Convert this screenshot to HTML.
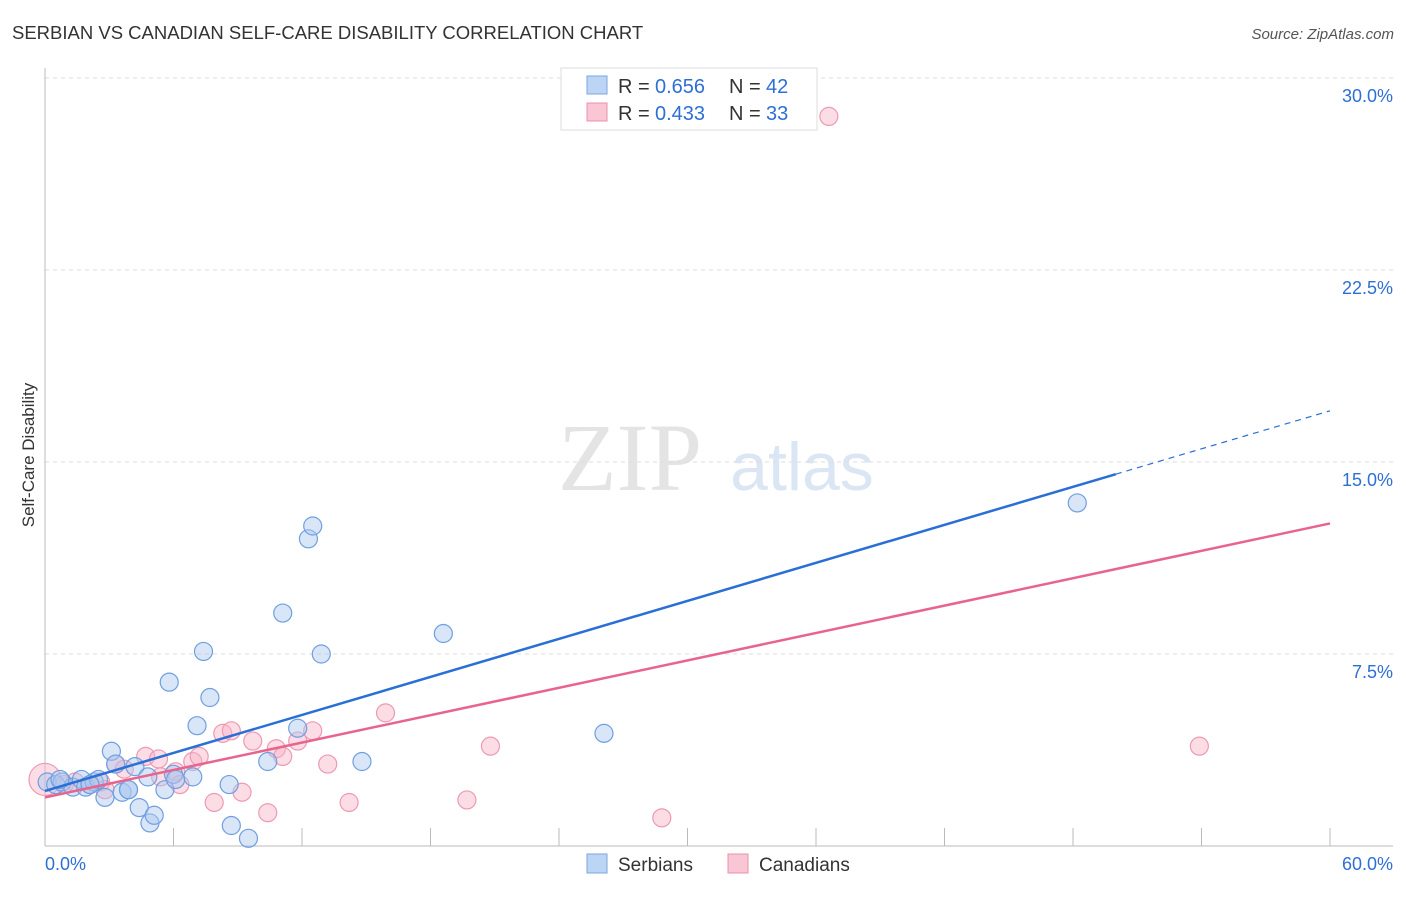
<!DOCTYPE html>
<html><head><meta charset="utf-8"><style>
body{margin:0;background:#fff;font-family:"Liberation Sans",sans-serif;}
</style></head><body>
<svg width="1406" height="892" xmlns="http://www.w3.org/2000/svg" id="svg">
<text x="12" y="39" font-size="18.5" fill="#333">SERBIAN VS CANADIAN SELF-CARE DISABILITY CORRELATION CHART</text>
<text x="1394" y="39" font-size="15" fill="#555" font-style="italic" text-anchor="end">Source: ZipAtlas.com</text>
<text x="630" y="490" font-size="96" fill="#e4e4e4" font-family="Liberation Serif,serif" text-anchor="middle">ZIP</text>
<text x="802" y="490" font-size="68" fill="#dbe6f5" text-anchor="middle">atlas</text>
<text x="34" y="455" font-size="17" fill="#333" transform="rotate(-90 34 455)" text-anchor="middle">Self-Care Disability</text>
<g id="grid"></g><g id="pts"></g><g id="lines"></g>
<g>
<rect x="561" y="68" width="256" height="62" fill="#fff" stroke="#ddd"/>
<rect x="587" y="76" width="20" height="18" fill="#bcd5f5" stroke="#7aa6e0"/>
<text x="618" y="93" font-size="20" fill="#333">R =</text><text x="655" y="93" font-size="20" fill="#2e6fd4">0.656</text>
<text x="729" y="93" font-size="20" fill="#333">N =</text><text x="766" y="93" font-size="20" fill="#2e6fd4">42</text>
<rect x="587" y="103" width="20" height="18" fill="#f9c6d6" stroke="#e890ab"/>
<text x="618" y="120" font-size="20" fill="#333">R =</text><text x="655" y="120" font-size="20" fill="#2e6fd4">0.433</text>
<text x="729" y="120" font-size="20" fill="#333">N =</text><text x="766" y="120" font-size="20" fill="#2e6fd4">33</text>
</g>
<g>
<rect x="587" y="854" width="20" height="19" fill="#bcd5f5" stroke="#7aa6e0"/>
<text x="618" y="871" font-size="19" fill="#333">Serbians</text>
<rect x="728" y="854" width="20" height="19" fill="#f9c6d6" stroke="#e890ab"/>
<text x="759" y="871" font-size="19" fill="#333">Canadians</text>
</g>
</svg>
<script>
const yTicks=[7.5,15,22.5,30];
const yTickLabels=["7.5%","15.0%","22.5%","30.0%"];
const xTickLabels=["0.0%","60.0%"];
const serbX=[0.1,0.5,0.8,1.3,1.7,1.9,2.3,2.5,2.8,3.1,3.3,3.6,3.9,4.2,4.4,4.8,4.9,5.1,5.6,5.8,6.0,6.9,7.1,7.4,7.7,8.6,8.7,9.5,10.4,11.1,11.8,12.3,12.5,12.9,14.8,18.6,26.1,48.2,0.7,2.1,3.9,6.1];
const serbY=[2.5,2.4,2.5,2.3,2.6,2.3,2.5,2.6,1.9,3.7,3.2,2.1,2.2,3.1,1.5,2.7,0.9,1.2,2.2,6.4,2.8,2.7,4.7,7.6,5.8,2.4,0.8,0.3,3.3,9.1,4.6,12.0,12.5,7.5,3.3,8.3,4.4,13.4,2.6,2.4,2.2,2.6];
const canX=[0,0.9,1.4,2.1,2.6,2.8,3.3,3.7,4.7,5.3,5.4,6.1,6.3,6.9,7.2,7.9,8.3,8.7,9.2,9.7,10.4,10.8,11.1,11.8,12.5,13.2,14.2,15.9,19.7,20.8,28.8,36.6,53.9];
const canY=[2.6,2.4,2.5,2.4,2.5,2.2,3.2,3.0,3.5,3.4,2.7,2.9,2.4,3.3,3.5,1.7,4.4,4.5,2.1,4.1,1.3,3.8,3.5,4.1,4.5,3.2,1.7,5.2,1.8,3.9,1.1,28.5,3.9];
const serbLine=[2.15,17.0], canLine=[1.9,12.6];
const X=v=>45+v*(1285/60), Y=v=>846-v*25.6;
const NS="http://www.w3.org/2000/svg";
function mk(t,a,p){const e=document.createElementNS(NS,t);for(const k in a)e.setAttribute(k,a[k]);p.appendChild(e);return e;}
const g=document.getElementById('grid');
yTicks.forEach((t,i)=>{const l=mk('line',{x1:45,x2:1393,y1:Y(t),y2:Y(t),stroke:'#ddd','stroke-dasharray':'4,4'},g);


const tx=mk('text',{x:1393,y:Y(t)+24,'font-size':18,fill:'#2e6fd4','text-anchor':'end'},g);tx.textContent=yTickLabels[i];

});
const ax=mk('line',{x1:45,x2:45,y1:68,y2:846,stroke:'#bbb'},g);


const bx=mk('line',{x1:45,x2:1393,y1:846,y2:846,stroke:'#bbb'},g);


for(let i=1;i<=10;i++){const t=mk('line',{x1:X(i*6),x2:X(i*6),y1:828,y2:846,stroke:'#bbb'},g);

}
[[0,'start',45],[60,'end',1393]].forEach((d,i)=>{const t=mk('text',{x:d[2],y:870,'font-size':18,fill:'#2e6fd4','text-anchor':d[1]},g);t.textContent=xTickLabels[i];

});
const p=document.getElementById('pts');
canX.forEach((v,i)=>{const c=mk('circle',{cx:X(v),cy:Y(canY[i]),r:i==0?16:9,fill:'rgba(248,180,200,0.45)',stroke:'#ec9ab3','stroke-width':1.2},p);

});
serbX.forEach((v,i)=>{const c=mk('circle',{cx:X(v),cy:Y(serbY[i]),r:9,fill:'rgba(170,200,240,0.45)',stroke:'#6f9fe0','stroke-width':1.2},p);

});
const L=document.getElementById('lines');
const sy=x=>serbLine[0]+(serbLine[1]-serbLine[0])*x/60;
let a=mk('line',{x1:X(0),y1:Y(sy(0)),x2:X(50),y2:Y(sy(50)),stroke:'#2a6fd6','stroke-width':2.5},L);


a=mk('line',{x1:X(50),y1:Y(sy(50)),x2:X(60),y2:Y(sy(60)),stroke:'#2a6fd6','stroke-width':1.2,'stroke-dasharray':'6,5'},L);


a=mk('line',{x1:X(0),y1:Y(canLine[0]),x2:X(60),y2:Y(canLine[1]),stroke:'#e8648f','stroke-width':2.5},L);


</script>
</body></html>
